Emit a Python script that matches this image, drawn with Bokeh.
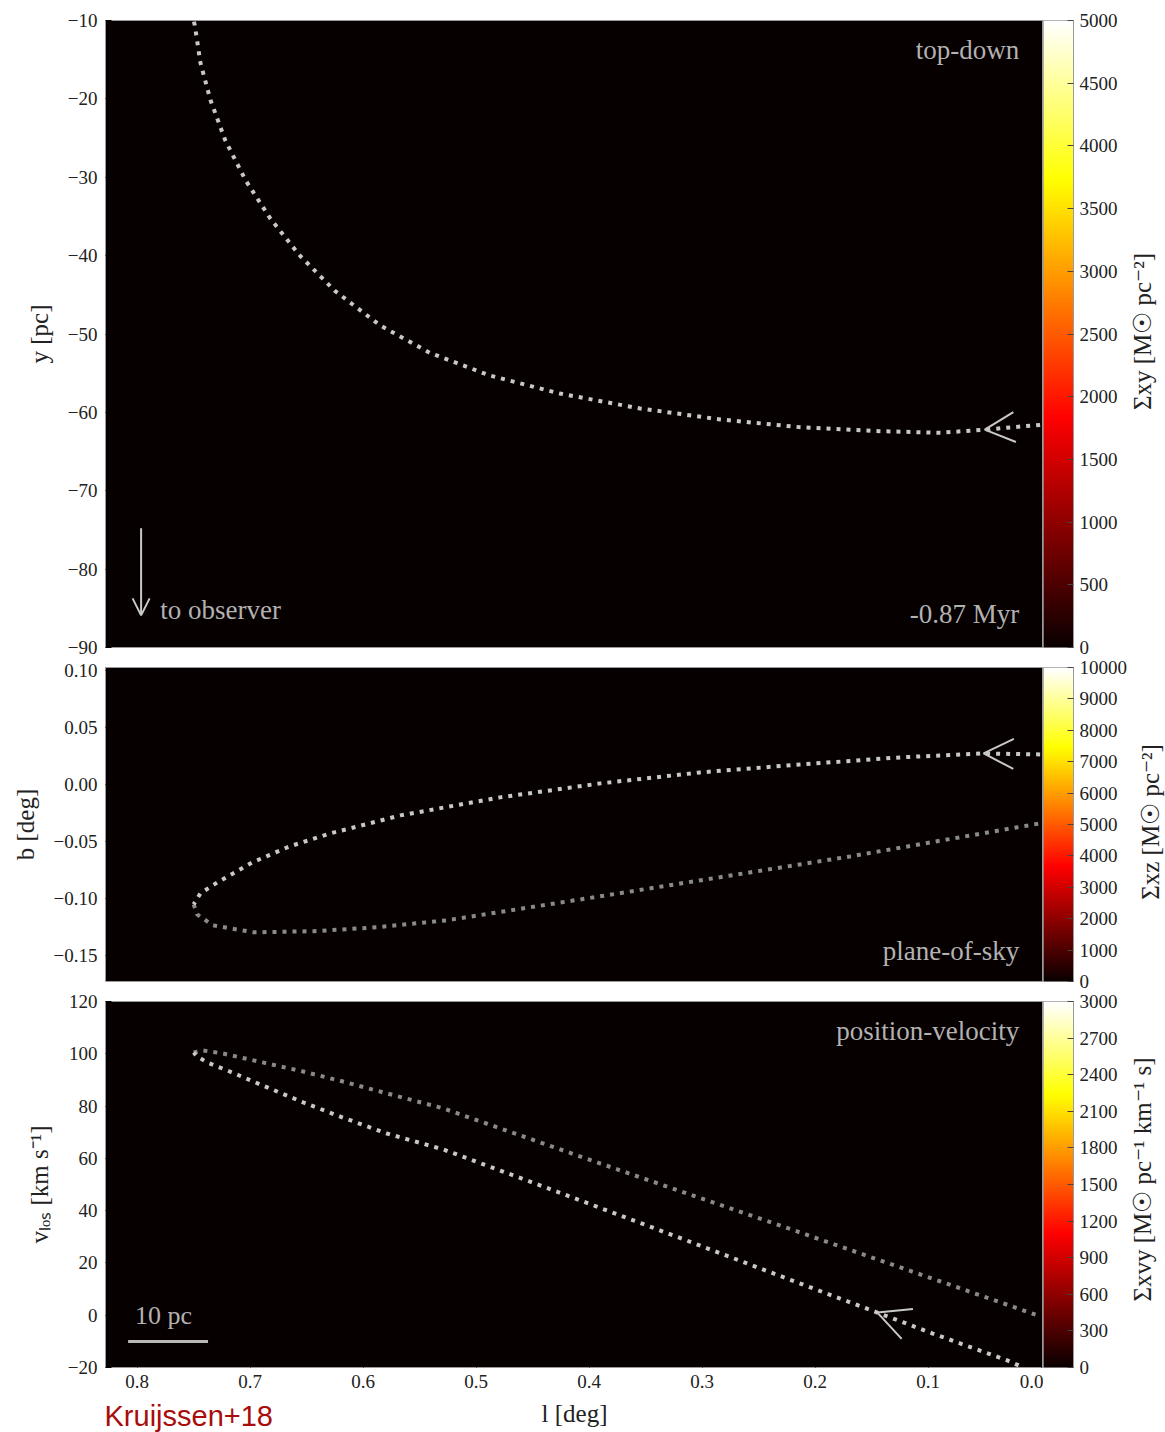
import numpy as np
from bokeh.plotting import figure
from bokeh.models import (Range1d, Label, Arrow, OpenHead, FixedTicker,
                          LinearColorMapper, CustomJSTickFormatter)
from bokeh.layouts import column, row
from bokeh.embed import file_html
from bokeh.resources import INLINE

# ---------------- data ----------------
# top-down view: Galactic longitude l [deg] vs y [pc] (time order: from l=0 leftwards)
TD_L = [0.001, 0.050, 0.089, 0.143, 0.213, 0.284, 0.355, 0.426, 0.488, 0.541,
        0.585, 0.625, 0.656, 0.682, 0.704, 0.722, 0.735, 0.744, 0.749, 0.750]
TD_Y = [-61.6, -62.2, -62.6, -62.4, -61.9, -60.9, -59.5, -57.6, -55.3, -52.4,
        -48.9, -44.5, -40.0, -35.3, -30.4, -25.3, -20.2, -15.4, -10.6, -10.0]

# plane-of-sky: l [deg] vs b [deg]
SKY_L_BRIGHT = [0.001, 0.051, 0.125, 0.213, 0.302, 0.390, 0.479, 0.567, 0.629,
                0.665, 0.698, 0.729, 0.744, 0.750]
SKY_B_BRIGHT = [0.0263, 0.0272, 0.0237, 0.0175, 0.0105, 0.0009, -0.0114, -0.0272,
                -0.0430, -0.0544, -0.0684, -0.0860, -0.0956, -0.1053]
SKY_L_DIM = [0.750, 0.747, 0.733, 0.697, 0.644, 0.588, 0.526, 0.390, 0.169, 0.001]
SKY_B_DIM = [-0.1053, -0.1140, -0.1237, -0.1298, -0.1289, -0.1254, -0.1193,
             -0.0982, -0.0632, -0.0342]

# position-velocity: l [deg] vs v_los [km/s]
PV_L_BRIGHT = [0.020, 0.030, 0.096, 0.145, 0.231, 0.337, 0.443, 0.529, 0.579,
               0.618, 0.653, 0.689, 0.720, 0.738, 0.747, 0.750]
PV_V_BRIGHT = [-19.2, -17.3, -7.0, 1.0, 15.0, 32.4, 49.6, 63.4, 69.5, 75.6,
               81.4, 87.9, 93.6, 96.7, 99.0, 100.5]
PV_L_DIM = [0.750, 0.742, 0.724, 0.689, 0.653, 0.618, 0.582, 0.529, 0.390,
            0.213, 0.089, 0.003]
PV_V_DIM = [100.5, 101.3, 100.1, 96.7, 93.2, 89.4, 85.2, 79.1, 58.0, 31.6, 12.9, -0.1]

# index of the direction arrow tip on each bright track
TD_ARROW = 1
SKY_ARROW = 1
PV_ARROW = 3

# ticks
L_TICKS = [0.0, 0.1, 0.2, 0.3, 0.4, 0.5, 0.6, 0.7, 0.8]
TD_TICKS = [-90, -80, -70, -60, -50, -40, -30, -20, -10]
SKY_TICKS = [-0.15, -0.10, -0.05, 0.0, 0.05, 0.10]
PV_TICKS = [-20, 0, 20, 40, 60, 80, 100, 120]
CB1_TICKS = list(range(0, 5001, 500))
CB2_TICKS = list(range(0, 10001, 1000))
CB3_TICKS = list(range(0, 3001, 300))

# texts
TIME_TEXT = "-0.87 Myr"
X_LABEL = "l [deg]"
CREDIT = "Kruijssen+18"
CB1_LABEL = "Σxy [M☉ pc⁻²]"
CB2_LABEL = "Σxz [M☉ pc⁻²]"
CB3_LABEL = "Σxvy [M☉ pc⁻¹ km⁻¹ s]"

SCALE_PC = 10.0
DIST_PC = 8100.0
OBS_L, OBS_Y0, OBS_Y1 = 0.7965, -74.8, -85.9

# ---------------- style ----------------
SERIF = "Liberation Serif"
BG = "#070000"
BRIGHT = "#c8c8c8"
DIM = "#8a8a8a"
TXT = "#b2b2b2"
TICKC = "#222222"
X_START, X_END = 0.828, -0.002
MAIN_W = 938
LEFT_B = 105
PAGE_W = 1165
CBAR_W = 30


def hot_palette(n=256):
    t = np.linspace(0, 1, n)
    r = np.clip(0.0416 + (1 - 0.0416) * t / 0.365079, 0, 1)
    g = np.clip((t - 0.365079) / (0.746032 - 0.365079), 0, 1)
    b = np.clip((t - 0.746032) / (1 - 0.746032), 0, 1)
    return ["#%02x%02x%02x" % (int(rr * 255), int(gg * 255), int(bb * 255))
            for rr, gg, bb in zip(r, g, b)]


HOT = hot_palette()


def fmt(decimals):
    return CustomJSTickFormatter(
        code="return tick.toFixed(%d).replace('-', '\u2212');" % decimals)


def main_fig(y0, y1, ticks, dec, frame_h, top, bottom, ylabel, show_x):
    p = figure(frame_width=MAIN_W, frame_height=frame_h,
               x_range=Range1d(X_START, X_END), y_range=Range1d(y0, y1),
               output_backend="svg", toolbar_location=None,
               min_border_left=LEFT_B, min_border_right=0,
               min_border_top=top, min_border_bottom=bottom,
               background_fill_color=BG, border_fill_color="white")
    p.grid.visible = False
    p.outline_line_color = "#9a9a9a"
    p.yaxis.ticker = FixedTicker(ticks=ticks)
    p.yaxis.formatter = fmt(dec)
    p.xaxis.ticker = FixedTicker(ticks=L_TICKS)
    p.xaxis.formatter = fmt(1)
    for ax in p.axis:
        ax.axis_line_color = "#9a9a9a"
        ax.major_tick_in = 6
        ax.major_tick_out = 0
        ax.minor_tick_line_color = None
        ax.major_tick_line_color = "#000000"
        ax.major_label_text_font = SERIF
        ax.major_label_text_font_size = "19px"
        ax.major_label_text_color = TICKC
        ax.axis_label_text_font = SERIF
        ax.axis_label_text_font_size = "25px"
        ax.axis_label_text_font_style = "normal"
        ax.axis_label_text_color = TICKC
    p.yaxis.major_label_standoff = 8
    p.yaxis.axis_label = ylabel
    p.yaxis.axis_label_standoff = 12
    if show_x:
        p.xaxis.major_label_standoff = 7
    else:
        p.xaxis.visible = False
    return p


def cbar_fig(hi, ticks, frame_h, top, bottom, right_b):
    p = figure(frame_width=CBAR_W, frame_height=frame_h,
               x_range=Range1d(0, 1), y_range=Range1d(0, hi),
               y_axis_location="right",
               output_backend="svg", toolbar_location=None,
               min_border_left=0, min_border_right=right_b,
               min_border_top=top, min_border_bottom=bottom,
               border_fill_color="white")
    p.grid.visible = False
    p.xaxis.visible = False
    p.outline_line_color = "#9a9a9a"
    mapper = LinearColorMapper(palette=HOT, low=0, high=hi)
    grad = np.linspace(0, hi, 256).reshape(256, 1)
    p.image(image=[grad], x=0, y=0, dw=1, dh=hi, color_mapper=mapper)
    ax = p.yaxis[0]
    ax.ticker = FixedTicker(ticks=ticks)
    ax.formatter = fmt(0)
    ax.axis_line_color = "#9a9a9a"
    ax.major_tick_in = 6
    ax.major_tick_out = 0
    ax.minor_tick_line_color = None
    ax.major_tick_line_color = "#444444"
    ax.major_label_standoff = 6
    ax.major_label_text_font = SERIF
    ax.major_label_text_font_size = "19px"
    ax.major_label_text_color = TICKC
    return p


def blank_fig(w, h, top, bottom, xr, yr):
    p = figure(frame_width=w, frame_height=h, x_range=xr, y_range=yr,
               output_backend="svg", toolbar_location=None,
               min_border_left=0, min_border_right=0,
               min_border_top=top, min_border_bottom=bottom,
               background_fill_color="white", border_fill_color="white")
    p.axis.visible = False
    p.grid.visible = False
    p.outline_line_color = None
    return p


def label_fig(right_b, frame_h, top, bottom, text, center_px):
    w = PAGE_W - (LEFT_B + MAIN_W) - CBAR_W - right_b
    left_px = PAGE_W - w
    p = blank_fig(w, frame_h, top, bottom, Range1d(0, w), Range1d(0, frame_h))
    p.add_layout(Label(x=center_px - left_px, y=frame_h / 2.0, text=text,
                       angle=np.pi / 2, text_align="center", text_baseline="middle",
                       text_font=SERIF, text_font_size="25px", text_color=TICKC))
    return p


def txt(p, x, y, text, align, size="27px", color=TXT):
    p.add_layout(Label(x=x, y=y, text=text, text_align=align, text_baseline="middle",
                       text_font=SERIF, text_font_size=size, text_color=color))


def track(p, xs, ys, color):
    p.line(xs, ys, line_color=color, line_width=4, line_dash="4 6")


def head(p, xs, ys, i, size):
    p.add_layout(Arrow(x_start=xs[i - 1], y_start=ys[i - 1], x_end=xs[i], y_end=ys[i],
                       line_alpha=0,
                       end=OpenHead(size=size, line_color=BRIGHT, line_width=2)))


# ---------------- panel 1: top-down ----------------
p1 = main_fig(-90, -10, TD_TICKS, 0, 627, 20, 10, "y [pc]", False)
track(p1, TD_L, TD_Y, BRIGHT)
head(p1, TD_L, TD_Y, TD_ARROW, 30)
txt(p1, 0.0195, -13.8, "top-down", "right")
txt(p1, 0.0195, -85.7, TIME_TEXT, "right")
txt(p1, 0.7796, -85.2, "to observer", "left")
p1.add_layout(Arrow(x_start=OBS_L, y_start=OBS_Y0, x_end=OBS_L, y_end=OBS_Y1,
                    line_color=BRIGHT, line_width=2,
                    end=OpenHead(size=17, line_color=BRIGHT, line_width=2)))
c1 = cbar_fig(5000, CB1_TICKS, 627, 20, 10, 54)
l1 = label_fig(54, 627, 20, 10, CB1_LABEL, 1142)

# ---------------- panel 2: plane-of-sky ----------------
p2 = main_fig(-0.173, 0.1026, SKY_TICKS, 2, 314, 10, 10, "b [deg]", False)
track(p2, SKY_L_DIM, SKY_B_DIM, DIM)
track(p2, SKY_L_BRIGHT, SKY_B_BRIGHT, BRIGHT)
head(p2, SKY_L_BRIGHT, SKY_B_BRIGHT, SKY_ARROW, 30)
txt(p2, 0.0195, -0.1465, "plane-of-sky", "right")
c2 = cbar_fig(10000, CB2_TICKS, 314, 10, 10, 60)
l2 = label_fig(60, 314, 10, 10, CB2_LABEL, 1150)

# ---------------- panel 3: position-velocity ----------------
p3 = main_fig(-20, 120, PV_TICKS, 0, 366, 10, 34, "vₗₒₛ [km s⁻¹]", True)
track(p3, PV_L_DIM, PV_V_DIM, DIM)
track(p3, PV_L_BRIGHT, PV_V_BRIGHT, BRIGHT)
head(p3, PV_L_BRIGHT, PV_V_BRIGHT, PV_ARROW, 32)
txt(p3, 0.0195, 108.9, "position-velocity", "right")
bar_deg = np.degrees(SCALE_PC / DIST_PC)
p3.line([0.808, 0.808 - bar_deg], [-10.1, -10.1], line_color="#b8b8b8", line_width=3)
txt(p3, 0.8018, 0.0, "%d pc" % SCALE_PC, "left", size="26px")
c3 = cbar_fig(3000, CB3_TICKS, 366, 10, 34, 54)
l3 = label_fig(54, 366, 10, 34, CB3_LABEL, 1142)

# ---------------- bottom strip: x-axis label and credit ----------------
STRIP_H = 31
strip = blank_fig(PAGE_W, STRIP_H, 0, 0, Range1d(0, PAGE_W), Range1d(STRIP_H, 0))
strip.add_layout(Label(x=LEFT_B + MAIN_W / 2.0, y=12, text=X_LABEL, text_align="center",
                       text_baseline="middle", text_font=SERIF, text_font_size="25px",
                       text_color=TICKC))
strip.add_layout(Label(x=LEFT_B - 1, y=14, text=CREDIT, text_align="left",
                       text_baseline="middle", text_font="Liberation Sans",
                       text_font_size="29px", text_color="#a80c0c"))

layout = column(row(p1, c1, l1), row(p2, c2, l2), row(p3, c3, l3), strip)
open("out.html", "w").write(file_html(layout, INLINE))
